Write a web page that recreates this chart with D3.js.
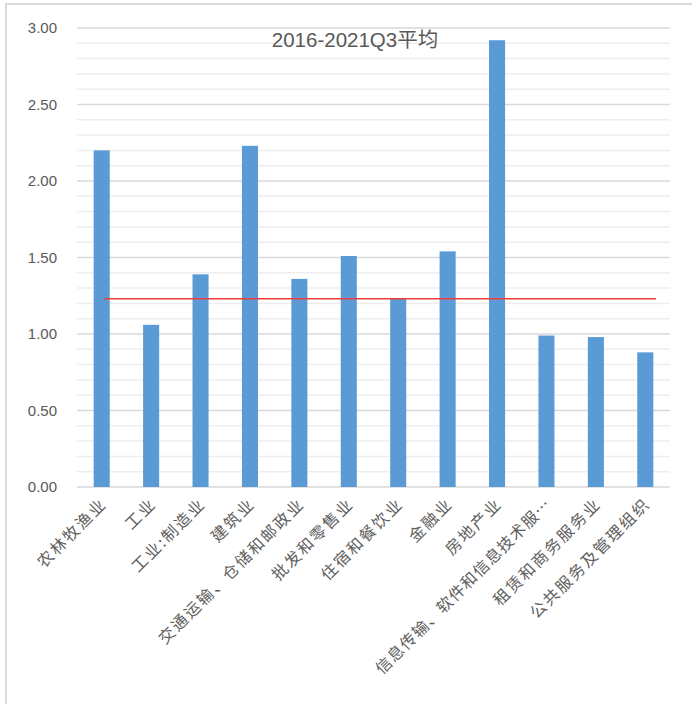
<!DOCTYPE html>
<html>
<head>
<meta charset="utf-8">
<script src="https://cdn.jsdelivr.net/npm/d3@7/dist/d3.min.js"></script>
<style>
  html, body { margin: 0; padding: 0; background: #fff; }
  svg { display: block; }
</style>
</head>
<body>
<svg id="chart" width="692" height="704"></svg>
<script>
// Industry categories (x axis)
const categories = [
  "农林牧渔业", "工业", "工业:制造业", "建筑业", "交通运输、仓储和邮政业",
  "批发和零售业", "住宿和餐饮业", "金融业", "房地产业",
  "信息传输、软件和信息技术服…", "租赁和商务服务业", "公共服务及管理组织"
];
// 2016-2021Q3 average per industry
const values = [2.20, 1.06, 1.39, 2.23, 1.36, 1.51, 1.23, 1.54, 2.92, 0.99, 0.98, 0.88];
// Overall average reference line
const averageValue = [1.23];
// Y axis ticks
const yTicks = [0, 0.5, 1.0, 1.5, 2.0, 2.5, 3.0];
const yMinorTicks = d3.range(1, 30).map(i => i / 10).filter(v => Math.round(v * 10) % 5 !== 0);
const titleText = "2016-2021Q3平均";

const svg = d3.select("#chart");
const W = 692, H = 704;
const plot = { left: 77, right: 670, top: 28, bottom: 487 };

const x = d3.scaleBand().domain(categories).range([plot.left, plot.right]).paddingInner(0.675).paddingOuter(0.3375);
const y = d3.scaleLinear().domain([0, 3]).range([plot.bottom, plot.top]);
// secondary category positions used by the average line
const xLine = d3.scalePoint().domain(categories).range([104, 656]);

// chart frame
svg.append("path")
  .attr("d", `M6,${H} L6,4 L${W},4`)
  .attr("fill", "none").attr("stroke", "#d9d9d9").attr("stroke-width", 2);

// minor gridlines
svg.append("g").selectAll("line").data(yMinorTicks).join("line")
  .attr("x1", plot.left).attr("x2", plot.right)
  .attr("y1", d => y(d)).attr("y2", d => y(d))
  .attr("stroke", "#eeeeee").attr("stroke-width", 1.5);

// major gridlines
svg.append("g").selectAll("line").data(yTicks).join("line")
  .attr("x1", plot.left).attr("x2", plot.right)
  .attr("y1", d => y(d)).attr("y2", d => y(d))
  .attr("stroke", "#d9d9d9").attr("stroke-width", 1.5);

// y axis labels
const yAxis = d3.axisLeft(y).tickValues(yTicks).tickFormat(d3.format(".2f")).tickSize(0).tickPadding(0);
const gy = svg.append("g").attr("transform", `translate(57,0)`).call(yAxis);
gy.select(".domain").remove();
gy.selectAll("text")
  .attr("font-family", "'Liberation Sans', Arial, sans-serif")
  .attr("font-size", 15).attr("fill", "#595959");

// bars
svg.append("g").selectAll("rect").data(values).join("rect")
  .attr("x", (d, i) => x(categories[i]))
  .attr("width", x.bandwidth())
  .attr("y", d => y(d))
  .attr("height", d => y(0) - y(d))
  .attr("fill", "#5b9bd5");

// average line
const line = d3.line().x(d => xLine(d)).y(() => y(averageValue[0]));
svg.append("path")
  .datum([categories[0], categories[categories.length - 1]])
  .attr("d", line)
  .attr("fill", "none").attr("stroke", "#f03c3c").attr("stroke-width", 1.5);

// x axis labels
const xAxis = d3.axisBottom(x).tickSize(0).tickPadding(0);
const gx = svg.append("g").attr("transform", `translate(0,${plot.bottom})`).call(xAxis);
gx.select(".domain").remove();
gx.selectAll(".tick text")
  .attr("font-family", "'Noto Sans CJK SC', sans-serif")
  .attr("font-size", 16).attr("fill", "#606060")
  .attr("letter-spacing", d => d.length > 12 ? "1.2px" : "2px")
  .attr("text-anchor", "end")
  .attr("dy", 0)
  .attr("y", 0)
  .attr("transform", "translate(6,18) rotate(-45)");

// title
svg.append("text")
  .attr("x", 355).attr("y", 47)
  .attr("text-anchor", "middle")
  .attr("font-family", "'Liberation Sans', 'Noto Sans CJK SC', sans-serif")
  .attr("font-size", 20.5).attr("fill", "#595959")
  .text(titleText);
</script>
</body>
</html>
